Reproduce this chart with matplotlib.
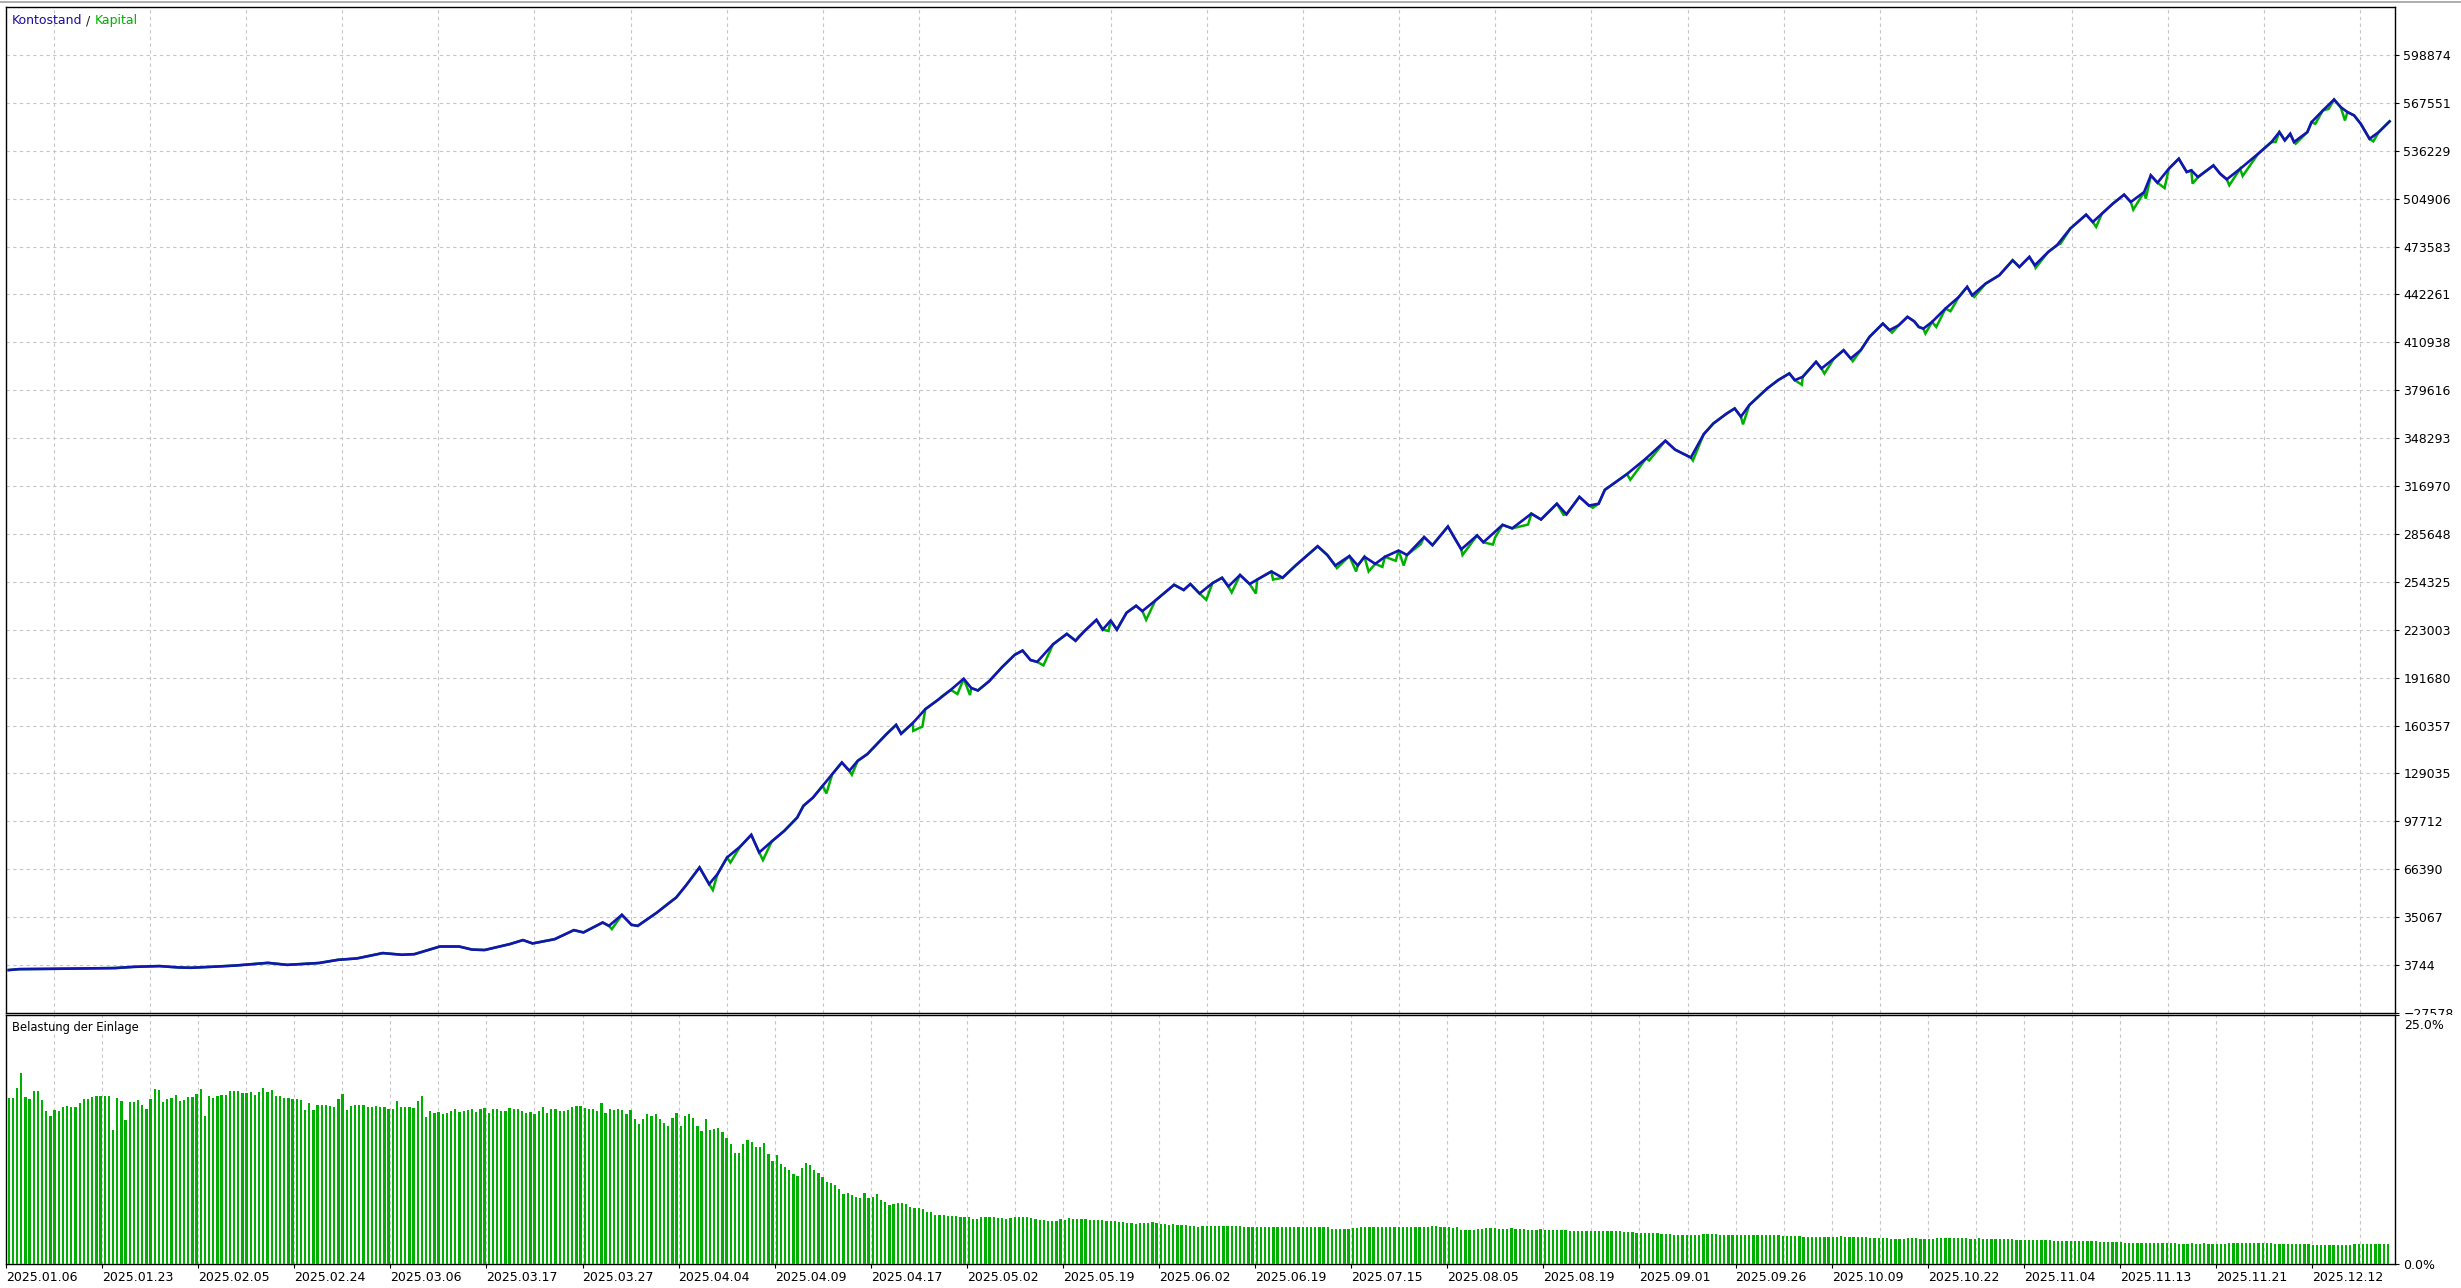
import numpy as np
import matplotlib
matplotlib.use('Agg')
import matplotlib.pyplot as plt
from matplotlib.ticker import FixedLocator
from matplotlib.patches import Rectangle
from matplotlib.lines import Line2D

# ---------------- data ----------------
DATE_LABELS = ['2025.01.06', '2025.01.23', '2025.02.05', '2025.02.24', '2025.03.06',
               '2025.03.17', '2025.03.27', '2025.04.04', '2025.04.09', '2025.04.17',
               '2025.05.02', '2025.05.19', '2025.06.02', '2025.06.19', '2025.07.15',
               '2025.08.05', '2025.08.19', '2025.09.01', '2025.09.26', '2025.10.09',
               '2025.10.22', '2025.11.04', '2025.11.13', '2025.11.21', '2025.12.12']

Y_TICKS = [-27578, 3744, 35067, 66390, 97712, 129035, 160357, 191680, 223003, 254325,
           285648, 316970, 348293, 379616, 410938, 442261, 473583, 504906, 536229,
           567551, 598874]

LOAD_TICKS = [0, 25]
LOAD_TICK_LABELS = ['0.0%', '25.0%']

# balance (Kontostand): trade number / value
BAL_T = [0, 2.5, 10.1, 25.4, 30.0, 36.1, 40.7, 43.7, 49.9, 54.5,
         62.1, 66.7, 69.7, 74.3, 78.9, 83.4, 89.6, 94.2, 97.2, 103.3,
         107.9, 111.0, 114.0, 120.1, 123.2, 125.5, 130.8, 135.4, 137.7, 142.3,
         143.8, 146.9, 149.2, 150.7, 155.3, 159.9, 162.2, 165.5, 167.8, 169.8,
         172.1, 175.2, 177.9, 179.8, 182.8, 185.8, 188.9, 190.4, 192.7, 195.0,
         197.3, 199.6, 201.4, 203.4, 205.7, 208.0, 210.3, 212.6, 213.8, 216.6,
         219.6, 222.7, 225.7, 228.8, 230.6, 232.2, 234.9, 238.0, 241.0, 242.9,
         244.8, 246.4, 250.2, 253.5, 255.6, 257.9, 260.6, 262.1, 264.0, 265.5,
         267.8, 270.1, 271.6, 274.7, 279.2, 281.5, 283.1, 285.3, 288.4, 290.7,
         292.2, 295.0, 297.3, 299.1, 302.5, 305.2, 308.3, 313.6, 315.9, 317.8,
         321.2, 323.2, 324.8, 327.4, 329.7, 333.0, 335.0, 339.1, 341.1, 344.8,
         346.5, 348.0, 351.8, 353.3, 357.9, 360.2, 364.8, 367.1, 370.9, 373.2,
         376.3, 378.6, 380.9, 382.4, 387.7, 392.3, 396.9, 399.2, 403.0, 406.1,
         408.4, 411.6, 413.5, 415.0, 417.0, 421.3, 423.9, 426.6, 427.9, 429.8,
         433.0, 434.3, 437.3, 439.6, 441.3, 443.7, 445.8, 449.0, 450.6, 452.8,
         454.9, 456.5, 457.6, 458.7, 460.8, 464.0, 467.2, 469.2, 470.4, 473.6,
         476.9, 480.1, 481.7, 484.1, 485.4, 488.6, 490.7, 493.9, 497.7, 499.3,
         501.5, 504.1, 506.8, 508.4, 511.6, 513.2, 514.8, 517.5, 519.9, 521.8,
         522.9, 524.5, 528.2, 529.8, 531.4, 534.6, 538.9, 542.1, 544.0, 545.3,
         546.6, 547.5, 550.7, 551.7, 554.4, 557.1, 558.7, 560.3, 561.9, 563.5,
         565.6, 567.8, 570.4]
BAL_V = [500, 1100, 1300, 1800, 2600, 3100, 2200, 2000, 2800, 3500,
         5200, 3900, 4400, 5100, 7200, 8100, 11600, 10500, 10900, 15900,
         15900, 13900, 13600, 17500, 20100, 17900, 20700, 26600, 25100, 31600,
         29400, 36600, 30100, 29400, 38100, 47900, 55600, 67600, 56700, 63200,
         74100, 81100, 88900, 77400, 84600, 91500, 100200, 107900, 113300, 121000,
         128600, 136200, 130800, 137300, 141700, 148200, 154800, 160800, 155000, 162000,
         171100, 177300, 183700, 191000, 184900, 183300, 189400, 198600, 206600, 209400,
         203200, 202000, 213500, 220300, 215800, 222600, 229500, 223100, 229000, 223100,
         234100, 238700, 235200, 242100, 252400, 249000, 252900, 246700, 253500, 257000,
         251300, 258800, 252900, 255800, 261100, 257000, 265000, 277600, 271900, 265000,
         271200, 265000, 270700, 266100, 270700, 274800, 271900, 283600, 278300, 290500,
         282500, 275600, 284700, 280200, 291600, 289300, 298900, 295100, 305400, 298500,
         309900, 304200, 305400, 314500, 324800, 335100, 346600, 340800, 335600, 350900,
         357900, 364400, 367700, 362300, 369900, 380800, 386200, 390600, 386200, 388400,
         398200, 393800, 400400, 405800, 400400, 405800, 414500, 423200, 418900, 422100,
         427600, 424700, 421000, 419900, 424300, 433000, 440600, 447200, 441700, 449300,
         454800, 464600, 460200, 466800, 461300, 470000, 474400, 485300, 494400, 489600,
         495100, 501600, 507500, 502700, 509200, 520100, 515300, 524400, 531000, 522300,
         523400, 519000, 526600, 521200, 517500, 524400, 534200, 541900, 548400, 543000,
         547300, 541900, 548400, 554900, 562500, 569700, 564700, 561500, 559300, 553800,
         544000, 548400, 555400]

# equity (Kapital) dips below the balance
DIP_T = [144.5, 158.3, 168.7, 172.9, 180.7, 195.9, 202.0, 216.7, 218.9, 223.7,
         227.3, 230.3, 247.9, 256.3, 263.5, 272.5, 286.9, 293.0, 298.8, 302.9,
         318.2, 322.8, 325.8, 329.1, 332.3, 334.2, 338.3, 348.3, 355.6, 356.1,
         364.0, 372.5, 379.5, 388.5, 393.0,
         403.5, 415.5, 429.6, 435.0, 441.8, 451.2, 459.2, 461.8, 465.2, 470.9,
         485.6, 491.6, 500.1, 509.0, 512.0, 516.5, 523.2, 532.0, 535.2, 543.1,
         547.9, 552.6, 555.8, 559.7, 566.5]
DIP_V = [27300, 44700, 52800, 70800, 72400, 116000, 128200, 156900, 159700, 179800,
         181000, 180300, 199700, 218500, 222200, 229500, 242600, 247400, 246700, 255800,
         263300, 261100, 261100, 264100, 268100, 265000, 279000, 271900, 278700, 283300,
         291800, 298200, 302800, 321100, 333700,
         333700, 357300, 383200, 390500, 398600, 417300, 416700, 421000, 431300, 440600,
         459600, 475500, 486400, 497700, 504900, 511800, 514700, 513600, 519700, 541900,
         540800, 553800, 563600, 556000, 542300]

# deposit load (Belastung der Einlage), tenths of a percent, one bar per trade
LOAD_A = [167, 167, 177, 192, 168, 166, 174, 174, 165, 154,
          149, 155, 154, 158, 159, 158, 158, 162, 166, 166,
          168, 169, 169, 169, 169, 135, 167, 164, 145, 163,
          163, 165, 160, 156, 166, 176, 175, 163, 166, 167,
          170, 164, 165, 168, 168, 171, 176, 149, 169, 167,
          169, 170, 170, 174, 174, 174, 172, 172, 173, 170,
          173, 177, 173, 175, 169, 169, 167, 167, 166, 166,
          165, 155, 162, 155, 160, 160, 160, 159, 158, 166,
          171, 155, 159, 160, 160, 160, 158, 158, 159, 158,
          158, 156, 156, 164, 158, 158, 158, 157, 164, 169,
          148, 154, 152, 153, 151, 152, 154, 156, 153, 154,
          155, 156, 153, 156, 157, 152, 156, 156, 154, 154,
          157, 156, 156, 154, 152, 153, 151, 154, 158, 152,
          156, 156, 154, 154, 155, 158, 159, 159, 157, 156,
          156, 154, 162, 152, 156, 155, 156, 155, 151, 155,
          146, 141, 146, 151, 149, 151, 146, 142, 139, 147,
          152, 139, 149, 151, 147, 139, 134, 146, 135, 136,
          137, 133, 127, 120, 111, 111, 120, 125, 122, 117,
          117, 121, 110, 103, 109, 100, 97, 94, 90, 88,
          96, 101, 99, 94, 91, 87, 82, 81, 79, 75, 70]
LOAD_B = [71, 69, 67, 66, 71, 66, 67, 70, 64, 62,
          59, 60, 61, 61, 60, 57, 56, 56, 55, 52,
          52, 49, 49, 49, 48, 48, 48, 47, 47, 47,
          45, 45, 47, 47, 47, 47, 46, 46, 45, 46,
          47, 47, 47, 47, 46, 45, 44, 44, 43, 43,
          43, 45, 44, 46, 45, 45, 45, 45, 44, 44,
          44, 44, 43, 43, 43, 42, 42, 41, 41, 40,
          41, 41, 41, 42, 41, 40, 40, 39, 40, 39,
          39, 39, 38, 38, 37, 38, 38, 38, 38, 38,
          38, 38, 38, 38, 38, 37, 37, 37, 37, 37,
          37, 37, 37, 37, 37, 37, 37, 37, 37, 37,
          37, 37, 37, 37, 37, 37, 35, 35, 35, 35,
          35, 36, 36, 37, 37, 37, 37, 37, 37, 37,
          37, 37, 37, 37, 37, 37, 37, 37, 37, 37,
          38, 38, 37, 37, 37, 36, 37, 34, 34, 34,
          34, 35, 35, 36, 36, 36, 35, 35, 35, 36,
          35, 35, 35, 34, 34, 34, 35, 34, 34, 34,
          34, 34, 34, 33, 33, 33, 33, 33, 33, 33,
          33, 33, 33]
LOAD_C = [33, 33, 33, 32, 32, 32, 31, 31, 31, 31,
          31, 31, 30, 30, 30, 29, 29, 29, 29, 29,
          29, 29, 30, 30, 30, 30, 29, 29, 29, 29,
          29, 29, 29, 29, 29, 29, 29, 29, 29, 29,
          29, 28, 28, 28, 28, 28, 27, 27, 27, 27,
          27, 27, 27, 27, 27, 28, 27, 27, 27, 27,
          27, 27, 26, 26, 26, 26, 26, 25, 25, 25,
          25, 26, 26, 26, 25, 25, 25, 25, 26, 26,
          26, 26, 26, 26, 26, 26, 25, 25, 26, 25,
          25, 25, 25, 25, 25, 25, 25, 24, 24, 24,
          24, 24, 24, 24, 24, 24, 23, 23, 23, 23,
          23, 23, 23, 23, 23, 23, 23, 22, 22, 22,
          22, 22, 22, 21, 21, 21, 21, 21, 21, 21,
          21, 21, 21, 21, 21, 21, 20, 20, 20, 21,
          20, 20, 21, 20, 20, 20, 20, 20, 21, 21,
          21, 21, 21, 21, 21, 21, 21, 21, 21, 20,
          20, 20, 20, 20, 20, 20, 20, 20, 19, 19,
          19, 19, 19, 19, 19, 19, 19, 19, 20, 20,
          20, 20, 20, 20, 20, 20, 20]

# ---------------- layout / style ----------------
W, H = 2461, 1288
X0, X1 = 6, 2395           # plot area left / right in px
TOP_Y0, TOP_Y1 = 7, 1013   # upper panel top / bottom in px
BOT_Y0, BOT_Y1 = 1015, 1264
X_LIM = (-0.65, 571.7)
TICK_START, TICK_STEP = -0.65, 23.02

BLUE = '#1414b4'
GREEN = '#00b000'
GRID = '#c6c6c6'
FONT = 'DejaVu Sans'
FS = 9

plt.rcParams['font.family'] = [FONT]

fig = plt.figure(figsize=(W / 100, H / 100), dpi=100)
ax1 = fig.add_axes([X0 / W, (H - TOP_Y1) / H, (X1 - X0) / W, (TOP_Y1 - TOP_Y0) / H])
ax2 = fig.add_axes([X0 / W, (H - BOT_Y1) / H, (X1 - X0) / W, (BOT_Y1 - BOT_Y0) / H],
                   sharex=ax1)
ax2.set_zorder(2)

major_pos = [TICK_START + TICK_STEP * k for k in range(len(DATE_LABELS))]
minor_pos = [TICK_START + TICK_STEP / 2 * k for k in range(1, 2 * len(DATE_LABELS))]

grid_kw = dict(color=GRID, linewidth=0.8, linestyle=(0, (3, 3)))

# ---- upper panel ----
eq_t = np.array(BAL_T + DIP_T)
eq_v = np.array(BAL_V + DIP_V)
order = np.argsort(eq_t, kind='stable')
ax1.plot(eq_t[order], eq_v[order], color=GREEN, linewidth=1.8, zorder=3,
         solid_joinstyle='miter')
ax1.plot(BAL_T, BAL_V, color=BLUE, linewidth=1.9, zorder=4, solid_joinstyle='miter')

y_step = Y_TICKS[-1] - Y_TICKS[-2]
ax1.set_ylim(Y_TICKS[0], Y_TICKS[-1] + y_step)
ax1.set_yticks(Y_TICKS)
ax1.yaxis.tick_right()
ax1.tick_params(axis='y', which='major', direction='out', length=3, width=0.8,
                pad=3, labelsize=FS, colors='black')
ax1.set_xlim(*X_LIM)
ax1.xaxis.set_major_locator(FixedLocator(major_pos))
ax1.xaxis.set_minor_locator(FixedLocator(minor_pos))
ax1.tick_params(axis='x', which='both', bottom=False, top=False,
                labelbottom=False, labeltop=False)
ax1.grid(axis='y', which='major', **grid_kw)
ax1.grid(axis='x', which='minor', **grid_kw)
ax1.set_axisbelow(True)
for sp in ax1.spines.values():
    sp.set_linewidth(1.0)
    sp.set_color('black')

t1 = ax1.text((11.7 - X0) / (X1 - X0), 1 - 13.7 / (TOP_Y1 - TOP_Y0), 'Kontostand',
              transform=ax1.transAxes, color='#1c0ca0', fontsize=FS,
              ha='left', va='center')
t2 = ax1.annotate(' / ', xy=(1, 0.5), xycoords=t1, color='#202020', fontsize=FS,
                  ha='left', va='center')
ax1.annotate('Kapital', xy=(1, 0.5), xycoords=t2, color=GREEN, fontsize=FS,
             ha='left', va='center')

# ---- lower panel ----
loads = np.array(LOAD_A + LOAD_B + LOAD_C) / 10.0
ax2.bar(np.arange(len(loads)), loads, width=0.55, color=GREEN, linewidth=0,
        antialiased=False, zorder=3)
ax2.set_ylim(LOAD_TICKS[0], LOAD_TICKS[-1])
ax2.set_yticks(LOAD_TICKS)
ax2.set_yticklabels([LOAD_TICK_LABELS[0], ''])
ax2.yaxis.tick_right()
ax2.tick_params(axis='y', which='major', direction='out', length=3, width=0.8,
                pad=3, labelsize=FS, colors='black')
ax2.annotate(LOAD_TICK_LABELS[1], xy=(1, LOAD_TICKS[1]),
             xycoords=('axes fraction', 'data'), xytext=(6.5, -3.2),
             textcoords='offset points', ha='left', va='top', fontsize=FS,
             color='black', annotation_clip=False)
ax2.set_xticks(major_pos)
ax2.set_xticklabels(DATE_LABELS, ha='left')
ax2.xaxis.set_minor_locator(FixedLocator(minor_pos))
ax2.tick_params(axis='x', which='major', direction='out', length=3, width=0.8,
                pad=2, labelsize=FS, colors='black')
ax2.tick_params(axis='x', which='minor', length=0)
ax2.grid(axis='x', which='minor', **grid_kw)
ax2.grid(axis='x', which='major', **grid_kw)
ax2.set_axisbelow(True)
for sp in ax2.spines.values():
    sp.set_linewidth(1.0)
    sp.set_color('black')
ax2.set_xlim(*X_LIM)

ax2.text((11.7 - X0) / (X1 - X0), 1 - 13 / (BOT_Y1 - BOT_Y0), 'Belastung der Einlage',
         transform=ax2.transAxes, color='black', fontsize=8.3, ha='left', va='center')

# mask the lower part of the clipped bottom label of the upper scale
fig.add_artist(Rectangle(((X1 + 2) / W, (H - 1021) / H), (W - X1 - 2) / W, 6 / H,
                         transform=fig.transFigure, facecolor='white',
                         edgecolor='none', zorder=1))
# window frame line at the top
fig.add_artist(Line2D([0, 1], [(H - 2) / H] * 2, transform=fig.transFigure,
                      color='#a0a0a0', linewidth=1.2))

fig.savefig('out.png', dpi=100)
